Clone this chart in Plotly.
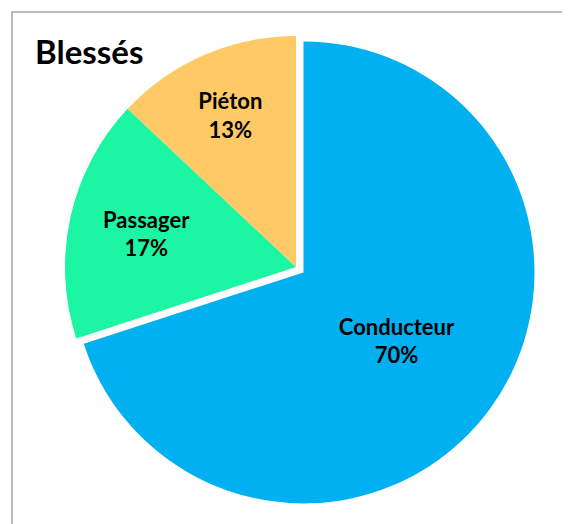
"""Pie chart: répartition des blessés."""
import plotly.graph_objects as go

labels = ["Conducteur", "Passager", "Piéton"]
values = [70, 17, 13]
colors = ["#00B0F0", "#1CF5A2", "#FFC966"]
pulls = [0.04, 0, 0]
title_text = "Blessés"

W, H = 570, 524
FONT = "Lato, 'Open Sans', sans-serif"

# the page body adds an 8px margin, so everything is placed 8px up/left
cx, cy, r = 288, 259, 231
half = r * (1 + max(pulls))

fig = go.Figure(
    go.Pie(
        labels=labels,
        values=values,
        pull=pulls,
        sort=False,
        direction="clockwise",
        rotation=0,
        marker=dict(colors=colors, line=dict(width=0)),
        texttemplate="<b>%{label}<br>%{value}%</b>",
        textposition="inside",
        insidetextorientation="horizontal",
        textfont=dict(family=FONT, size=22, color="black"),
        hoverinfo="label+percent",
        domain=dict(
            x=[(cx - half - 20) / W, (cx + half + 20) / W],
            y=[1 - (cy + half) / H, 1 - (cy - half) / H],
        ),
        showlegend=False,
    )
)

fig.update_layout(
    width=W,
    height=H,
    margin=dict(l=0, r=0, t=0, b=0),
    paper_bgcolor="white",
    plot_bgcolor="white",
    font=dict(family=FONT),
    annotations=[
        dict(
            text="<b>" + title_text + "</b>",
            x=25 / W,
            y=1 - 21 / H,
            xref="paper",
            yref="paper",
            xanchor="left",
            yanchor="top",
            showarrow=False,
            font=dict(family=FONT, size=33, color="black"),
        )
    ],
    shapes=[
        dict(
            type="rect",
            xref="paper",
            yref="paper",
            x0=4 / W,
            y0=-0.05,
            x1=1.05,
            y1=1 - 4 / H,
            line=dict(color="#A6A6A6", width=1.5),
        )
    ],
)

fig.write_html("out.html")
